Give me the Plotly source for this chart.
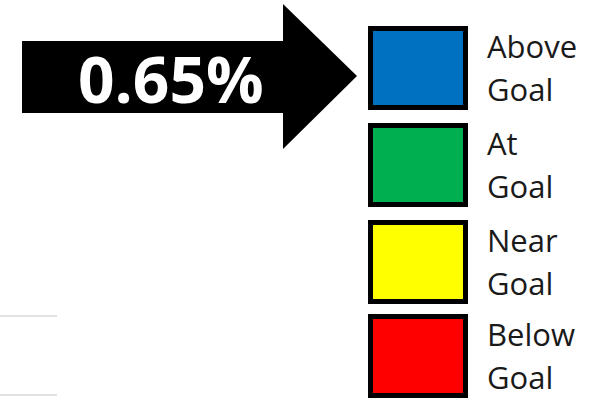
import plotly.graph_objects as go

# ---- data ----
value_pct = 0.65
categories = ["Above Goal", "At Goal", "Near Goal", "Below Goal"]
category_colors = ["#0070C0", "#00B050", "#FFFF00", "#FF0000"]

# ---- layout constants (pixel space) ----
W, H = 602, 399
BOX_X0, BOX_X1 = 368, 468
BOX_TOPS = [26, 123, 220, 314]
BOX_H = 84
BORDER = 5
LABEL_X = 485
FONT = "Open Sans, Noto Sans, sans-serif"

fig = go.Figure()

shapes = []
# arrow
arrow_path = "M 22 41 L 283 41 L 283 4 L 357 76 L 283 149 L 283 113 L 22 113 Z"
shapes.append(dict(type="path", path=arrow_path, xref="x", yref="y",
                   fillcolor="black", line=dict(color="black", width=0)))
# faint gridline fragments bottom-left
for gy in [316, 395]:
    shapes.append(dict(type="line", x0=0, x1=57, y0=gy, y1=gy, xref="x", yref="y",
                       line=dict(color="#d9d9d9", width=1.5)))

annotations = []
annotations.append(dict(x=171, y=78, xref="x", yref="y", text=f"<b>{value_pct:.2f}%</b>",
                        showarrow=False, xanchor="center", yanchor="middle",
                        font=dict(family=FONT, size=64, color="white")))

for cat, col, top in zip(categories, category_colors, BOX_TOPS):
    h = BORDER / 2
    shapes.append(dict(type="rect", xref="x", yref="y",
                       x0=BOX_X0 + h, x1=BOX_X1 - h, y0=top + h, y1=top + BOX_H - h,
                       fillcolor=col, line=dict(color="black", width=BORDER)))
    words = cat.split(" ")
    for k, w in enumerate(words):
        baseline = top + 31 + 43 * k
        annotations.append(dict(x=LABEL_X, y=baseline - 11, xref="x", yref="y", text=w,
                                showarrow=False, xanchor="left", yanchor="middle",
                                font=dict(family=FONT, size=31, color="#1a1a1a")))

fig.update_layout(
    width=W, height=H, margin=dict(l=0, r=0, t=0, b=0),
    paper_bgcolor="white", plot_bgcolor="white",
    xaxis=dict(range=[0, W], visible=False, fixedrange=True),
    yaxis=dict(range=[H, 0], visible=False, fixedrange=True),
    shapes=shapes, annotations=annotations, showlegend=False,
)

fig.write_html("out.html", config={"displayModeBar": False},
               post_script="document.body.style.margin='0';document.body.style.overflow='hidden';")
